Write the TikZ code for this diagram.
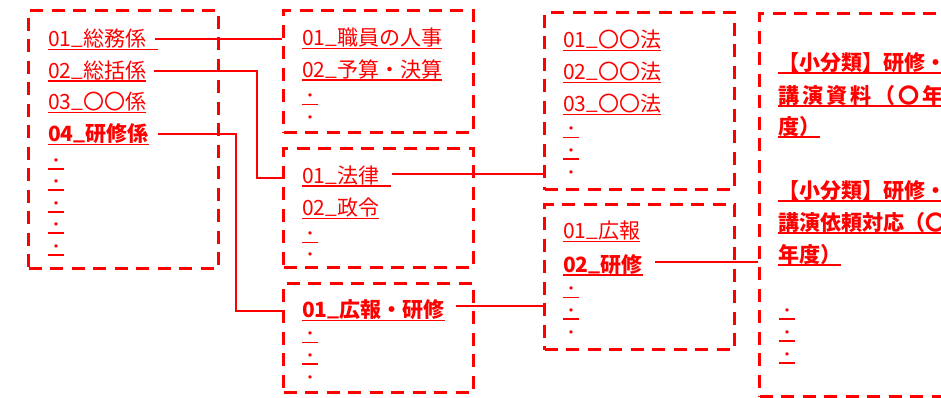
\documentclass[tikz,border=0pt]{standalone}
\usepackage{fontspec}
\setmainfont{Noto Sans CJK JP}
\newsavebox\ulbox
\newcommand\ulx[2][0pt]{\sbox\ulbox{#2}\rlap{\rule[-3.6pt]{\dimexpr\wd\ulbox+#1\relax}{1.3pt}}\usebox\ulbox}
\newcommand\us{\raisebox{2pt}{\_}}
\newcommand\dotmark{・}
\tikzset{
  boxst/.style={draw=red, line width=3pt, dash pattern=on 13pt off 8.5pt, minimum width=190pt, anchor=north west, inner sep=0pt},
  item/.style={anchor=base west, inner sep=0pt, text=red, font=\fontsize{21pt}{25pt}\selectfont},
  strong/.style={item, font=\fontsize{21pt}{25pt}\selectfont\bfseries},
  dotitem/.style={item, font=\fontsize{16pt}{18pt}\selectfont},
  conn/.style={draw=red, line width=1.8pt}
}
\begin{document}
\begin{tikzpicture}[x=1pt, y=-1pt]
\useasboundingbox (0,0) rectangle (941,397);
\clip (0,0) rectangle (941,397);
% boxes
\node[boxst, minimum height=258pt] (b1) at (27,9) {};
\node[boxst, minimum height=122pt] (b2) at (282,9) {};
\node[boxst, minimum height=119pt] (b3) at (282,147) {};
\node[boxst, minimum height=109pt] (b4) at (282,281.5) {};
\node[boxst, minimum height=177pt] (b5) at (543,11) {};
\node[boxst, minimum height=145pt] (b6) at (543,203) {};
\node[boxst, minimum height=383pt, minimum width=230pt] (b7) at (758,12) {};
% box 1
\node[item] (a1) at (48,46.3) {\ulx[12pt]{01\us 総務係}};
\node[item] (a2) at (48,78) {\ulx{02\us 総括係}};
\node[item] (a3) at (48,109.7) {\ulx{03\us 〇〇係}};
\node[strong] (a4) at (48,141.3) {\ulx{04\us 研修係}};
\node[dotitem] (a5) at (48,166) {\ulx{\dotmark}};
\node[dotitem] (a6) at (48,187) {\ulx{\dotmark}};
\node[dotitem] (a7) at (48,209) {\ulx{\dotmark}};
\node[dotitem] (a8) at (48,230) {\ulx{\dotmark}};
\node[dotitem] (a9) at (48,252) {\ulx{\dotmark}};
% box 2
\node[item] (p1) at (302,45.3) {\ulx{01\us 職員の人事}};
\node[item] (p2) at (302,77) {\ulx{02\us 予算・決算}};
\node[dotitem] (p3) at (302,101.3) {\ulx{\dotmark}};
\node[dotitem] (p4) at (302,123) {\dotmark};
% box 3
\node[item] (L1) at (302,183) {\ulx[12pt]{01\us 法律}};
\node[item] (L2) at (302,215.3) {\ulx{02\us 政令}};
\node[dotitem] (L3) at (302,239.3) {\ulx{\dotmark}};
\node[dotitem] (L4) at (302,260) {\dotmark};
% box 4
\node[strong] (K1) at (302,317.3) {\ulx{01\us 広報・研修}};
\node[dotitem] (K2) at (302,339.7) {\ulx{\dotmark}};
\node[dotitem] (K3) at (302,361) {\ulx{\dotmark}};
\node[dotitem] (K4) at (302,383) {\dotmark};
% box 5
\node[item] (H1) at (563,47.7) {\ulx{01\us 〇〇法}};
\node[item] (H2) at (563,79.3) {\ulx{02\us 〇〇法}};
\node[item] (H3) at (563,111.3) {\ulx{03\us 〇〇法}};
\node[dotitem] (H4) at (563,134.3) {\ulx{\dotmark}};
\node[dotitem] (H5) at (563,156) {\ulx{\dotmark}};
\node[dotitem] (H6) at (563,178) {\dotmark};
% box 6
\node[item] (R1) at (563,238.7) {\ulx{01\us 広報}};
\node[strong] (R2) at (563,272) {\ulx{02\us 研修}};
\node[dotitem] (R3) at (563,294.7) {\ulx{\dotmark}};
\node[dotitem] (R4) at (563,316) {\ulx{\dotmark}};
\node[dotitem] (R5) at (563,338) {\dotmark};
% box 7
\node[strong] (S1) at (778,70) {\ulx{【小分類】研修・}};
\node[strong] (S2) at (778,103) {\ulx{講\kern3pt 演\kern3pt 資\kern3pt 料\kern3pt （\kern3pt 〇\kern3pt 年}};
\node[strong] (S3) at (778,134) {\ulx{度）}};
\node[strong] (S4) at (778,198) {\ulx{【小分類】研修・}};
\node[strong] (S5) at (778,230) {\ulx{講演依頼対応（〇}};
\node[strong] (S6) at (778,262) {\ulx{年度）}};
\node[dotitem] (S7) at (779,316) {\ulx{\dotmark}};
\node[dotitem] (S8) at (779,338) {\ulx{\dotmark}};
\node[dotitem] (S9) at (779,360) {\ulx{\dotmark}};
% connectors
\coordinate (k2) at (256.7,0);
\coordinate (k4) at (235.7,0);
\coordinate (s1) at ([shift={(9pt,7pt)}]a1.base east);
\coordinate (s2) at ([shift={(8pt,7.3pt)}]a2.base east);
\coordinate (e2) at ([yshift=5.3pt]L1.base west);
\coordinate (s4) at ([shift={(9pt,7.3pt)}]a4.base east);
\coordinate (e4) at ([yshift=6.3pt]K1.base west);
\coordinate (s5) at ([shift={(13pt,8.7pt)}]L1.base east);
\coordinate (s6) at ([shift={(11pt,11.6pt)}]K1.base east);
\coordinate (s7) at ([shift={(12pt,9.7pt)}]R2.base east);
\draw[conn] (s1) -- (s1 -| b2.west);
\draw[conn] (s2) -| (k2 |- e2) -- (e2 -| b3.west);
\draw[conn] (s4) -| (k4 |- e4) -- (e4 -| b4.west);
\draw[conn] (s5) -- (s5 -| b5.west);
\draw[conn] (s6) -- (s6 -| b6.west);
\draw[conn] (s7) -- (s7 -| b7.west);
\end{tikzpicture}
\end{document}
